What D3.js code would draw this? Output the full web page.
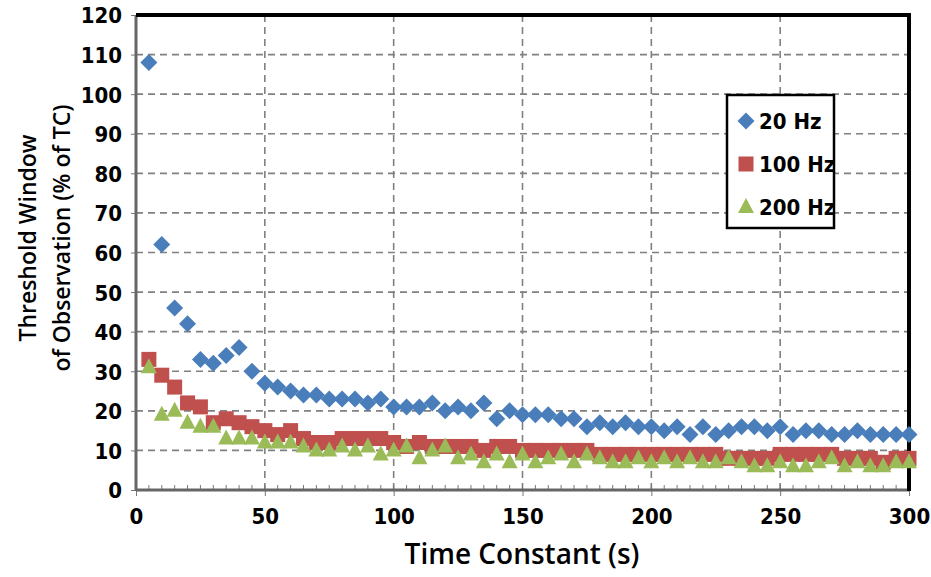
<!DOCTYPE html>
<html><head><meta charset="utf-8">
<script src="https://cdn.jsdelivr.net/npm/d3@7"></script>
<style>body{margin:0;background:#fff;}svg{display:block;} .cond{font-stretch:condensed;}</style>
</head><body><svg id="c" width="931" height="577"></svg>
<script>
const timeConstants = d3.range(5, 301, 5);
const hz20 = [108,62,46,42,33,32,34,36,30,27,26,25,24,24,23,23,23,22,23,21,21,21,22,20,21,20,22,18,20,19,19,19,18,18,16,17,16,17,16,16,15,16,14,16,14,15,16,16,15,16,14,15,15,14,14,15,14,14,14,14];
const hz100 = [33,29,26,22,21,17,18,17,16,15,14,15,13,12,12,13,13,13,13,12,11,12,11,11,11,11,10,11,11,10,10,10,10,10,10,9,9,9,9,9,9,9,9,9,9,8,8,8,8,9,9,9,9,9,8,8,8,7,8,8];
const hz200 = [31,19,20,17,16,16,13,13,13,12,12,12,11,10,10,11,10,11,9,10,11,8,10,11,8,9,7,9,7,9,7,8,9,7,9,8,7,7,8,7,8,7,8,7,7,8,7,6,6,7,6,6,7,8,6,7,6,6,7,7];
const seriesNames = ["20 Hz","100 Hz","200 Hz"];
const seriesColors = ["#4A7EBB","#C0504D","#9BBB59"];
const xTicks = [0,50,100,150,200,250,300];
const yTicks = d3.range(0,121,10);

const svg = d3.select("#c");
const x = d3.scaleLinear().domain([0,300]).range([136,909]);
const y = d3.scaleLinear().domain([0,120]).range([490,15]);
const tickFont = "'DejaVu Sans Condensed','DejaVu Sans',sans-serif";

// grid
svg.append("g").selectAll("line").data(yTicks.filter(d=>d>0&&d<120)).join("line")
  .attr("x1",x(0)).attr("x2",x(300)).attr("y1",d=>y(d)).attr("y2",d=>y(d))
  .attr("stroke","#808080").attr("stroke-width",1.6).attr("stroke-dasharray","7,5");
svg.append("g").selectAll("line").data(xTicks.filter(d=>d>0&&d<300)).join("line")
  .attr("x1",d=>x(d)).attr("x2",d=>x(d)).attr("y1",y(0)).attr("y2",y(120))
  .attr("stroke","#808080").attr("stroke-width",1.6).attr("stroke-dasharray","7,5");

// axes
const yAxis = svg.append("g").attr("transform",`translate(${x(0)},0)`)
  .call(d3.axisLeft(y).tickValues(yTicks).tickSize(5).tickPadding(9));
yAxis.select(".domain").remove();
yAxis.selectAll("line").attr("stroke","#777");
yAxis.selectAll("text").attr("class","cond").attr("font-family",tickFont).attr("font-weight","bold")
  .attr("font-size",22).attr("fill","#000").attr("dy","0.36em");

const xAxis = svg.append("g").attr("transform",`translate(0,${y(0)})`)
  .call(d3.axisBottom(x).tickValues(xTicks).tickSize(6).tickPadding(12));
xAxis.select(".domain").remove();
xAxis.selectAll("line").attr("stroke","#777");
xAxis.selectAll("text").attr("class","cond").attr("font-family",tickFont).attr("font-weight","bold")
  .attr("font-size",22).attr("fill","#000");
// minor ticks inside
svg.append("g").selectAll("line").data(d3.range(5,300,5)).join("line")
  .attr("x1",d=>x(d)).attr("x2",d=>x(d)).attr("y1",y(0)).attr("y2",y(0)-5)
  .attr("stroke","#777").attr("stroke-width",1);

// frame
svg.append("line").attr("x1",x(0)).attr("x2",x(0)).attr("y1",y(120)).attr("y2",y(0)+1)
  .attr("stroke","#666").attr("stroke-width",3);
svg.append("line").attr("x1",x(0)).attr("x2",x(300)).attr("y1",y(0)).attr("y2",y(0))
  .attr("stroke","#666").attr("stroke-width",3);
svg.append("line").attr("x1",x(0)).attr("x2",x(300)+2).attr("y1",y(120)).attr("y2",y(120))
  .attr("stroke","#000").attr("stroke-width",4);
svg.append("line").attr("x1",x(300)).attr("x2",x(300)).attr("y1",y(120)-2).attr("y2",y(0)+1)
  .attr("stroke","#000").attr("stroke-width",4);

// markers
function drawMarker(g, kind, cx, cy, color){
  if(kind===0){
    const r=8.5;
    g.append("path").attr("d",`M${cx},${cy-r}L${cx+r},${cy}L${cx},${cy+r}L${cx-r},${cy}Z`).attr("fill",color);
  } else if(kind===1){
    const s=15;
    g.append("rect").attr("x",cx-s/2).attr("y",cy-s/2).attr("width",s).attr("height",s).attr("fill",color);
  } else {
    const w=16,h=15;
    g.append("path").attr("d",`M${cx},${cy-h*0.6}L${cx+w/2},${cy+h*0.4}L${cx-w/2},${cy+h*0.4}Z`).attr("fill",color);
  }
}
const allSeries=[hz20,hz100,hz200];
[1,2,0].forEach(k=>{
  const g=svg.append("g");
  allSeries[k].forEach((v,i)=>drawMarker(g,k,x(timeConstants[i]),y(v),seriesColors[k]));
});

// legend
const lg = svg.append("g");
lg.append("rect").attr("x",727).attr("y",95).attr("width",107).attr("height",133)
  .attr("fill","#fff").attr("stroke","#000").attr("stroke-width",2.5);
seriesNames.forEach((n,i)=>{
  const cy = 121 + i*43;
  drawMarker(lg,i,746,cy,seriesColors[i]);
  lg.append("text").attr("class","cond").attr("x",759).attr("y",cy).attr("dy","0.36em")
    .attr("font-family",tickFont).attr("font-weight","bold").attr("font-size",22)
    .attr("fill","#000").text(n);
});

// titles
svg.append("text").attr("x",522).attr("y",564).attr("text-anchor","middle")
  .attr("font-family","'Open Sans',sans-serif").attr("font-weight","600").attr("font-size",28)
  .attr("fill","#000").text("Time Constant (s)");
const yt = svg.append("text").attr("transform","translate(0,238) rotate(-90)")
  .attr("text-anchor","middle").attr("font-family","'Open Sans',sans-serif")
  .attr("font-weight","600").attr("font-size",23).attr("fill","#000");
yt.append("tspan").attr("x",0).attr("y",36).text("Threshold Window");
yt.append("tspan").attr("x",0).attr("y",70).text("of Observation (% of TC)");
</script></body></html>
